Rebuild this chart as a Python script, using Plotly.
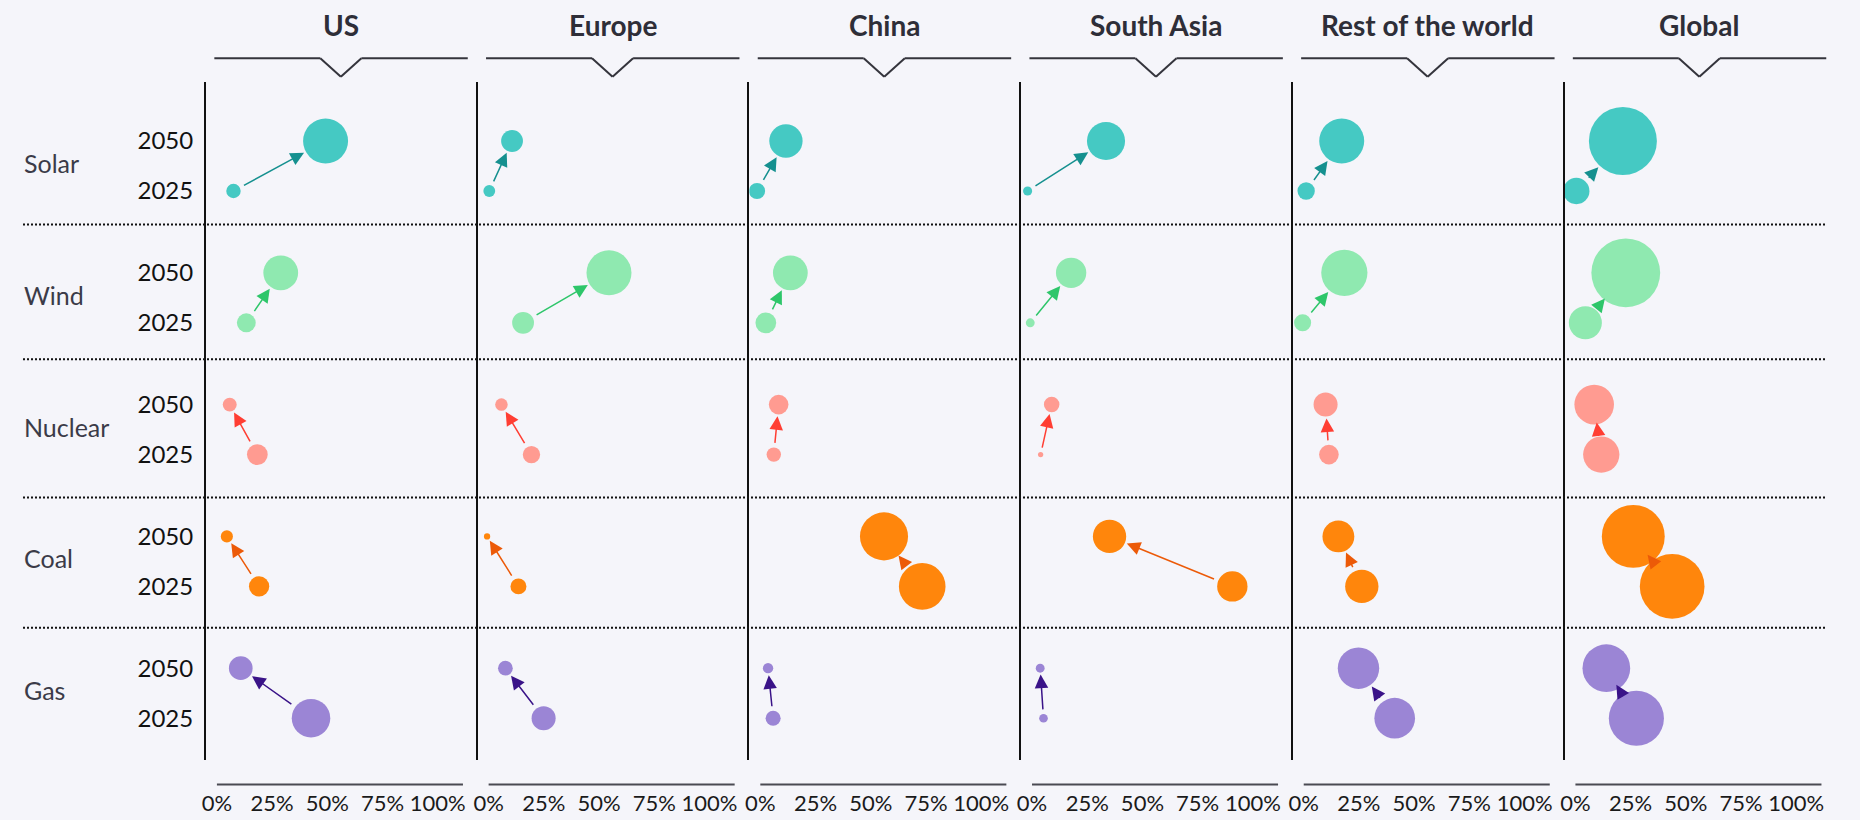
import math
import plotly.graph_objects as go

# ---------------- data ----------------
REGIONS = ["US", "Europe", "China", "South Asia", "Rest of the world", "Global"]
TECHS = ["Solar", "Wind", "Nuclear", "Coal", "Gas"]
YEAR_LABELS = ["2050", "2025"]
X_TICKS = [0, 25, 50, 75, 100]
X_TICK_LABELS = ["0%", "25%", "50%", "75%", "100%"]

# position on the 0-100% axis, per region (US, Europe, China, South Asia, RoW, Global)
SOLAR_2025 = [7.5, 0.3, -1.5, -2.0, 1.1, 0.4]
SOLAR_2050 = [49.2, 10.6, 11.6, 33.5, 17.2, 21.5]
WIND_2025 = [13.3, 15.6, 2.5, -0.8, -0.5, 4.5]
WIND_2050 = [28.9, 54.5, 13.6, 17.7, 18.4, 22.8]
NUCLEAR_2025 = [18.3, 19.4, 6.1, 3.9, 11.4, 11.7]
NUCLEAR_2050 = [5.8, 5.8, 8.3, 8.9, 9.9, 8.5]
COAL_2025 = [19.1, 13.5, 73.3, 90.7, 26.3, 43.8]
COAL_2050 = [4.5, -0.7, 56.0, 35.1, 15.7, 26.2]
GAS_2025 = [42.6, 24.9, 5.8, 5.2, 41.2, 27.6]
GAS_2050 = [10.8, 7.6, 3.5, 3.7, 24.8, 14.0]

# bubble size (relative area units), per region
SOLAR_2025_SIZE = [4.5, 3.0, 5.7, 1.8, 6.5, 15.0]
SOLAR_2050_SIZE = [43.8, 10.3, 24.0, 31.4, 43.8, 100.0]
WIND_2025_SIZE = [7.7, 10.3, 9.3, 1.7, 6.3, 23.6]
WIND_2050_SIZE = [26.2, 43.8, 26.2, 19.9, 46.2, 102.4]
NUCLEAR_2025_SIZE = [9.3, 6.5, 4.5, 0.6, 8.3, 28.5]
NUCLEAR_2050_SIZE = [4.2, 3.4, 8.3, 5.2, 12.5, 33.9]
COAL_2025_SIZE = [8.9, 5.5, 47.0, 19.9, 24.0, 90.5]
COAL_2050_SIZE = [3.2, 0.86, 50.0, 24.0, 21.9, 85.6]
GAS_2025_SIZE = [32.1, 12.5, 4.9, 1.6, 35.8, 65.7]
GAS_2050_SIZE = [12.1, 4.7, 2.3, 1.7, 37.1, 49.2]

POS_2025 = [SOLAR_2025, WIND_2025, NUCLEAR_2025, COAL_2025, GAS_2025]
POS_2050 = [SOLAR_2050, WIND_2050, NUCLEAR_2050, COAL_2050, GAS_2050]
SIZE_2025 = [SOLAR_2025_SIZE, WIND_2025_SIZE, NUCLEAR_2025_SIZE, COAL_2025_SIZE, GAS_2025_SIZE]
SIZE_2050 = [SOLAR_2050_SIZE, WIND_2050_SIZE, NUCLEAR_2050_SIZE, COAL_2050_SIZE, GAS_2050_SIZE]

# ---------------- styles ----------------
BUBBLE_COLORS = ["#45c9c3", "#8fe9b0", "#ff9b91", "#ff860c", "#9b85d5"]
ARROW_COLORS = ["#15908f", "#2ec66a", "#ff3e33", "#ec5a08", "#3a1388"]
BG = "#f5f5fa"
FONT = "Lato"

W, H = 1860, 820
PANEL_X0 = 206.0
PANEL_W = 271.7
PX_PER_PCT = 2.225
ZERO_OFF = 11.0
X_RANGE = [-ZERO_OFF / PX_PER_PCT, (PANEL_W - ZERO_OFF) / PX_PER_PCT]
Y_TOP, Y_BOT = 82.0, 760.0
ROW0 = 141.0
ROW_PITCH = 131.8
YEAR_GAP = 50.0
SEPARATORS = [224.5, 359.3, 497.5, 627.7]
MAX_DIAM = 68.0
# plotly 'area' mode: diameter = sqrt(2 * v / sizeref)
SIZEREF = 2 * 100.0 / MAX_DIAM ** 2
ARROW_W = 1.5
ARROW_SIZE = 1.8
MIN_ARROW = 15.0


def diam(v):
    return math.sqrt(2 * v / SIZEREF)


def py(px):
    return (H - px) / H


def row_y(r):
    return ROW0 + ROW_PITCH * r, ROW0 + ROW_PITCH * r + YEAR_GAP


fig = go.Figure()
annotations = []
shapes = []
layout_axes = {}

for i, region in enumerate(REGIONS):
    sfx = "" if i == 0 else str(i + 1)
    xa, ya = "x" + sfx, "y" + sfx
    x0 = (PANEL_X0 + PANEL_W * i) / W
    x1 = (PANEL_X0 + PANEL_W * (i + 1) - 2) / W
    layout_axes["xaxis" + sfx] = dict(
        domain=[x0, x1], range=X_RANGE, anchor=ya,
        tickvals=X_TICKS, ticktext=X_TICK_LABELS,
        showgrid=False, zeroline=False, showline=False, ticks="",
        ticklabelstandoff=28, automargin=False,
        tickfont=dict(family=FONT, size=22, color="#1a1a1a"),
        fixedrange=True,
    )
    yd = dict(
        domain=[py(Y_BOT), py(Y_TOP)], range=[Y_BOT, Y_TOP], anchor=xa,
        showgrid=False, zeroline=False, showline=True, linecolor="#111111",
        linewidth=2, ticks="", automargin=False, fixedrange=True,
    )
    if i == 0:
        tv, tt = [], []
        for r in range(len(TECHS)):
            a, b = row_y(r)
            tv += [a, b]
            tt += YEAR_LABELS
        yd.update(tickvals=tv, ticktext=tt, showticklabels=True,
                  ticklabelstandoff=6,
                  tickfont=dict(family=FONT, size=24, color="#111111"))
    else:
        yd.update(showticklabels=False, matches="y")
    layout_axes["yaxis" + sfx] = yd

    # header title
    annotations.append(dict(
        xref=xa + " domain", x=0.5, yref="paper", y=py(25), text="<b>%s</b>" % region,
        showarrow=False, xanchor="center", yanchor="middle",
        font=dict(family=FONT, size=28, color="#2e2e38"),
    ))
    # header bracket
    lc = dict(color="#34343c", width=2)
    yl, yt = py(58.3), py(76.7)
    a0, a1 = 8.4 / PANEL_W, 1 - 8.0 / PANEL_W
    hv = 20.7 / PANEL_W
    for (u0, v0, u1, v1) in [(a0, yl, 0.5 - hv, yl), (0.5 - hv, yl, 0.5, yt),
                             (0.5, yt, 0.5 + hv, yl), (0.5 + hv, yl, a1, yl)]:
        shapes.append(dict(type="line", xref=xa + " domain", yref="paper",
                           x0=u0, y0=v0, x1=u1, y1=v1, line=lc))
    # bottom axis line
    shapes.append(dict(type="line", xref=xa, yref="paper", x0=0, x1=111.4,
                       y0=py(784.5), y1=py(784.5), line=dict(color="#4a4a52", width=2)))

    # bubbles and arrows
    for r, tech in enumerate(TECHS):
        y50, y25 = row_y(r)
        xs = [POS_2050[r][i], POS_2025[r][i]]
        ss = [SIZE_2050[r][i], SIZE_2025[r][i]]
        fig.add_trace(go.Scatter(
            x=xs, y=[y50, y25], xaxis=xa, yaxis=ya, mode="markers",
            marker=dict(size=ss, sizemode="area", sizeref=SIZEREF,
                        color=BUBBLE_COLORS[r], opacity=1, line=dict(width=0)),
            hoverinfo="skip", showlegend=False,
        ))
        d25 = diam(ss[1])
        d50 = diam(ss[0])
        dx = (xs[0] - xs[1]) * PX_PER_PCT
        dy = y50 - y25
        dist = math.hypot(dx, dy)
        r1 = d25 / 2 + 3
        r2 = d50 / 2 + 2
        gap = dist - r1 - r2
        if gap < MIN_ARROW:
            shift = (MIN_ARROW - gap) / 2
            r1 = max(r1 - shift, 0)
            r2 = max(r2 - shift, 0)
        annotations.append(dict(
            x=xs[0], y=y50, xref=xa, yref=ya, ax=xs[1], ay=y25, axref=xa, ayref=ya,
            text="", showarrow=True, arrowhead=2, arrowsize=ARROW_SIZE,
            arrowwidth=ARROW_W, arrowcolor=ARROW_COLORS[r],
            standoff=r2, startstandoff=r1,
        ))

# technology labels
for r, tech in enumerate(TECHS):
    a, b = row_y(r)
    annotations.append(dict(
        xref="paper", x=22 / W, yref="y", y=(a + b) / 2 - 3, text=tech,
        showarrow=False, xanchor="left", yanchor="middle",
        font=dict(family=FONT, size=25, color="#3b3b48"),
    ))

# dotted separators
for s in SEPARATORS:
    shapes.append(dict(type="line", xref="paper", yref="y", x0=23 / W, x1=1826 / W,
                       y0=s, y1=s, layer="below",
                       line=dict(color="#111111", width=2, dash="2px,2px")))

fig.update_layout(
    width=W, height=H, margin=dict(l=0, r=0, t=0, b=0),
    paper_bgcolor=BG, plot_bgcolor=BG, showlegend=False,
    hovermode=False, annotations=annotations, shapes=shapes,
    font=dict(family=FONT),
    **layout_axes,
)

fig.write_html(
    "out.html",
    config={"displayModeBar": False},
    post_script="document.body.style.margin='0';document.body.style.background='%s';" % BG,
)
